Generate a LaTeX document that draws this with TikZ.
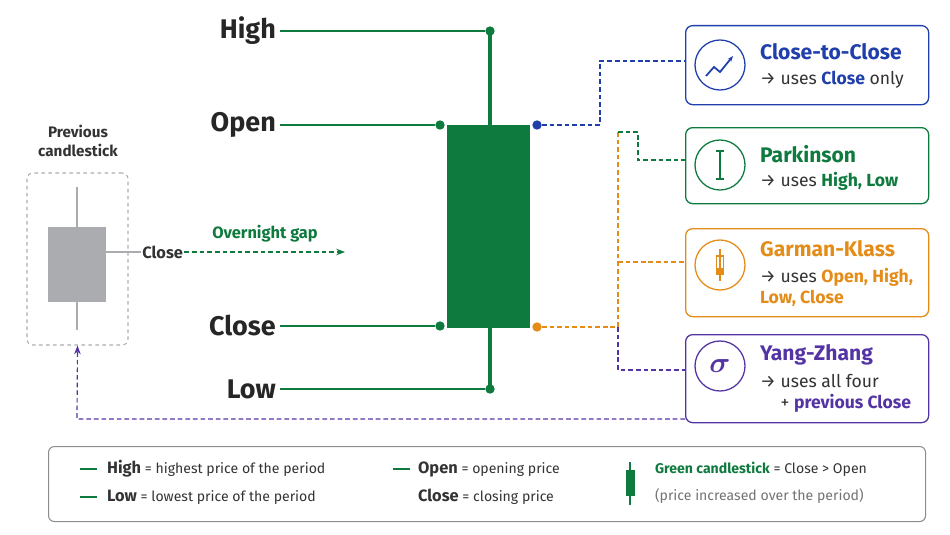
\documentclass[tikz,border=0pt]{standalone}
\usepackage{amsmath}
\usepackage{fontspec}
\setmainfont{Fira Sans}
\usetikzlibrary{positioning,arrows.meta,calc}
\definecolor{CandleGreen}{RGB}{14,122,62}
\definecolor{CtcBlue}{RGB}{32,62,172}
\definecolor{GkOrange}{RGB}{228,140,24}
\definecolor{YzPurple}{RGB}{84,52,164}
\definecolor{PrevGray}{RGB}{170,172,176}

\begin{document}
\begin{tikzpicture}[
            x=0.03cm, y=-0.03cm,
            >=Stealth,
            price/.style={font=\fontsize{23}{25}\selectfont\bfseries, anchor=east, text=black!85},
            level/.style={CandleGreen, line width=2.2pt},
            dot/.style={circle, fill=#1, inner sep=0pt, minimum size=8pt},
            link/.style={#1, dash pattern=on 4pt off 2.5pt, line width=1pt},
            method/.style={draw=#1, rounded corners=6pt, line width=1.1pt, minimum width=243*0.03cm, anchor=north west},
            icon/.style={circle, draw=#1, line width=1.1pt, minimum size=50*0.03cm},
            mtitle/.style={font=\fontsize{18}{20}\selectfont\bfseries, anchor=west, text=#1},
            mtext/.style={font=\fontsize{15}{18}\selectfont, anchor=west, align=left, text=black!80},
            legtext/.style={font=\fontsize{12}{14}\selectfont, anchor=west, text=black!80},
        ]
        \useasboundingbox (0,0) rectangle (950,535);

        % ===== main candlestick =====
        \coordinate (wtop) at (490,31);
        \coordinate (wbot) at (490,389);
        \draw[CandleGreen, line width=3pt] (wtop) -- (wbot);
        \node[fill=CandleGreen, minimum width=83*0.03cm, minimum height=203*0.03cm, inner sep=0pt] (body) at (488.5,226.5) {};

        \node[price] (high) at (280,31) {High};
        \node[price] (open) at (280,125) {Open};
        \node[price] (close) at (280,326) {Close};
        \node[price] (low) at (280,389) {Low};

        \node[dot=CandleGreen] (dhigh) at (wtop) {};
        \node[dot=CandleGreen] (dopen) at (440,125) {};
        \node[dot=CandleGreen] (dclose) at (440,326) {};
        \node[dot=CandleGreen] (dlow) at (wbot) {};
        \draw[level] (high) -- (dhigh);
        \draw[level] (open) -- (dopen);
        \draw[level] (close) -- (dclose);
        \draw[level] (low) -- (dlow);

        \node[dot=CtcBlue] (dblue) at (537,125) {};
        \node[dot=GkOrange] (dorange) at (537,327) {};

        % ===== previous candlestick =====
        \node[font=\fontsize{13}{16}\selectfont\bfseries, align=center, text=black!80] (prevlbl) at (78,141) {Previous\\candlestick};
        \node[draw=PrevGray, dashed, rounded corners=5pt, line width=0.9pt, minimum width=101*0.03cm, minimum height=172*0.03cm] (prevbox) at (77.5,259) {};
        \draw[PrevGray, line width=2.5pt] (77,187) -- (77,330);
        \node[fill=PrevGray, minimum width=58*0.03cm, minimum height=75*0.03cm, inner sep=0pt] (prevbody) at (77,264.5) {};
        \node[font=\fontsize{14}{16}\selectfont\bfseries, anchor=west, text=black!80, inner sep=1pt] (prevclose) at (141,252) {Close};
        \draw[PrevGray, line width=1.8pt] (prevbody.east |- prevclose) -- (prevclose);
        \coordinate (gapend) at (345,252);
        \draw[link=CandleGreen, ->] (prevclose) -- (gapend);
        \node[font=\fontsize{14}{16}\selectfont\bfseries, text=CandleGreen] (gaplbl) at (265,234) {Overnight gap};

        % ===== estimator boxes =====
        \node[method=CtcBlue, minimum height=79*0.03cm] (ctc) at (685,25) {};
        \node[method=CandleGreen, minimum height=76*0.03cm] (park) at (685,127) {};
        \node[method=GkOrange, minimum height=88*0.03cm] (gk) at (685,228) {};
        \node[method=YzPurple, minimum height=88*0.03cm] (yz) at (685,334) {};

        \node[icon=CtcBlue] (ctcicon) at (720,65) {};
        \draw[CtcBlue, line width=1.5pt, -{Stealth[length=5pt]}] (706,76) -- (714,67) -- (720,72) -- (733,56);
        \node[icon=CandleGreen] (parkicon) at (720,165) {};
        \draw[CandleGreen, line width=1.1pt] (720,151) -- (720,179) (716,151) -- (724,151) (716,179) -- (724,179);
        \node[icon=GkOrange] (gkicon) at (720,265) {};
        \draw[GkOrange, line width=1.1pt] (720,249) -- (720,281) (716.5,256) rectangle (723.5,274);
        \fill[GkOrange] (716.5,268) rectangle (723.5,274);
        \node[icon=YzPurple, text=YzPurple, font=\fontsize{30}{30}\selectfont] (yzicon) at (720,366) {$\boldsymbol{\sigma}$};

        \node[mtitle=CtcBlue] (ctct) at (756,52) {Close-to-Close};
        \node[mtext] (ctcd) at (756,80) {→ uses \textbf{\textcolor{CtcBlue}{Close}} only};
        \node[mtitle=CandleGreen] (parkt) at (756,154) {Parkinson};
        \node[mtext] (parkd) at (756,181) {→ uses \textbf{\textcolor{CandleGreen}{High, Low}}};
        \node[mtitle=GkOrange] (gkt) at (756,249) {Garman-Klass};
        \node[mtext] (gkd) at (756,287) {→ uses \textbf{\textcolor{GkOrange}{Open, High,}}\\\textbf{\textcolor{GkOrange}{Low, Close}}};
        \node[mtitle=YzPurple] (yzt) at (756,355) {Yang-Zhang};
        \node[mtext] (yzd) at (756,393) {→ uses all four\\\hphantom{→ }+ \textbf{\textcolor{YzPurple}{previous Close}}};

        % ===== dashed links =====
        \draw[link=CtcBlue] (dblue) -- (600,125) -- (600,61) -- (ctc.west |- 0,61);
        \draw[link=GkOrange] (dorange) -- (618,327);
        \draw[link=GkOrange] (618,327) -- (618,132);
        \draw[link=CandleGreen] (618,132) -- (638,132) -- (638,160) -- (park.west |- 0,160);
        \draw[link=GkOrange] (618,262) -- (gk.west |- 0,262);
        \draw[link=YzPurple] (618,327) -- (618,370) -- (yz.west |- 0,370);
        \draw[link=YzPurple, ->] (yz.west |- 0,419) -- (77,419) -- (prevbox.south);

        % ===== legend =====
        \node[draw=black!45, rounded corners=5pt, line width=0.9pt, minimum width=877*0.03cm, minimum height=75*0.03cm, anchor=north west] (legend) at (48,446) {};
        \foreach \y/\nm/\txt [count=\i] in {469/High/highest price of the period, 497/Low/lowest price of the period}{
            \draw[CandleGreen, line width=2pt] (80,\y) -- (97,\y);
            \node[legtext] (leg\i) at (103,\y) {\textbf{\fontsize{14}{16}\selectfont\nm} = \txt};
        }
        \draw[CandleGreen, line width=2pt] (393,469) -- (410,469);
        \node[legtext] (legopen) at (414,469) {\textbf{\fontsize{14}{16}\selectfont Open} = opening price};
        \node[legtext] (legclose) at (414,497) {\textbf{\fontsize{14}{16}\selectfont Close} = closing price};
        \draw[CandleGreen, line width=1.4pt] (630,462) -- (630,505);
        \node[fill=CandleGreen, minimum width=9*0.03cm, minimum height=26*0.03cm, inner sep=0pt] (legcandle) at (630,483) {};
        \node[legtext] (leggreen) at (651,469) {\textbf{\textcolor{CandleGreen}{Green candlestick}} = Close > Open};
        \node[legtext, text=black!55] (legnote) at (651,496) {(price increased over the period)};
\end{tikzpicture}
\end{document}
